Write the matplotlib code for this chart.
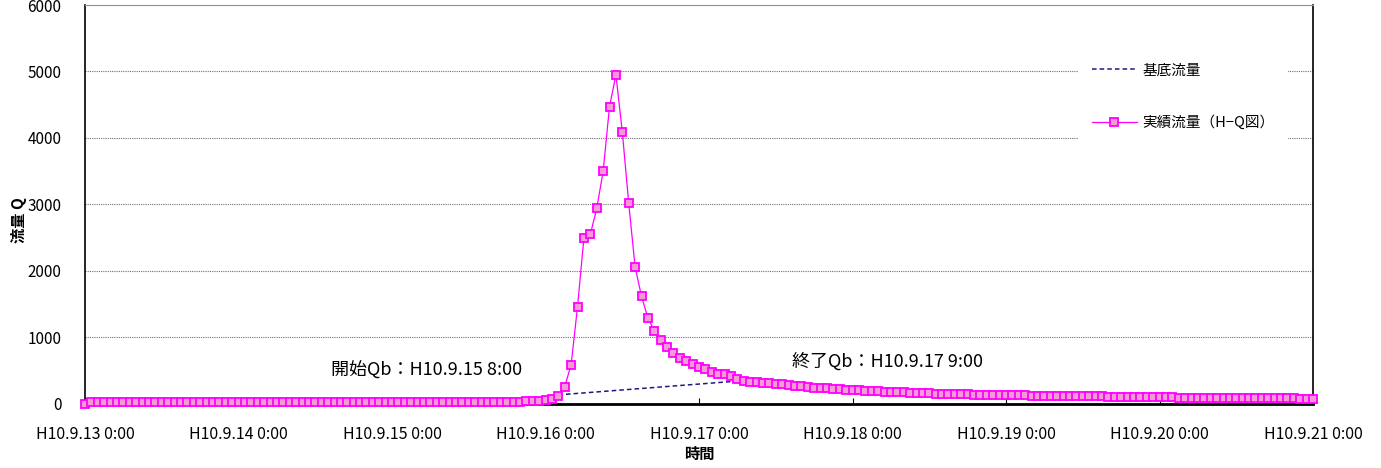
import matplotlib
matplotlib.use("Agg")
import matplotlib.pyplot as plt

plt.rcParams['font.family'] = ['Noto Sans CJK JP', 'DejaVu Sans']

# hourly discharge, H10.9.13 0:00 .. H10.9.21 0:00
flow = [0,
        25, 26, 26, 25, 25, 26, 26, 25, 25, 25, 26, 26, 25, 25, 25, 26, 25, 25, 25, 25,
        25, 25, 24, 24, 25, 25, 25, 24, 24, 24, 25, 25, 24, 24, 24, 24, 24, 24, 23, 23,
        23, 24, 24, 24, 23, 23, 23, 23, 23, 23, 23, 23, 22, 22, 22, 22, 22, 22, 22, 22,
        21, 20, 20, 20, 20, 22, 22, 23,
        35, 38, 40, 53, 65, 113, 255, 585, 1460, 2496, 2546, 2937, 3494, 4471, 4947,
        4090, 3018, 2055, 1614, 1290, 1098, 952, 850, 762, 685, 645, 598, 556, 516,
        475, 446, 444, 416, 366, 345, 330, 318, 305, 302, 290, 288, 278, 268, 262,
        252, 240, 234, 228, 222, 215, 210, 204, 198, 194, 189, 185, 180, 176, 172,
        168, 164, 160, 157, 153, 150, 147, 144, 141, 138, 136, 134, 132, 130, 128,
        126, 124, 123, 122, 121, 120, 120, 119, 118, 117, 116, 114, 112, 110, 108,
        107, 106, 105, 104, 103, 102, 101, 100, 98, 97, 95, 94, 92, 90, 89, 88, 87,
        87, 86, 86, 85, 85, 84, 84, 83, 83, 82, 81, 80, 79, 78, 76, 75, 74, 72]
hours = list(range(len(flow)))

# base flow line (start / end hour and value)
base_hours = [74, 103]
base_flow = [130, 345]

tick_hours = [0, 24, 48, 72, 96, 120, 144, 168, 192]
tick_labels = ['H10.9.13 0:00', 'H10.9.14 0:00', 'H10.9.15 0:00', 'H10.9.16 0:00',
               'H10.9.17 0:00', 'H10.9.18 0:00', 'H10.9.19 0:00', 'H10.9.20 0:00',
               'H10.9.21 0:00']

fig = plt.figure(figsize=(13.81, 4.68), dpi=100)
ax = fig.add_axes([0.0616, 0.1378, 0.8892, 0.8515])

for q in [1000, 2000, 3000, 4000, 5000]:
    ax.axhline(q, color='#707070', lw=0.8, ls=(0, (1, 1)), zorder=1)

ax.plot(base_hours, base_flow, color='#1a1a80', lw=1.1, ls=(0, (3, 2)),
        label='基底流量', zorder=2)
ax.plot(hours, flow, color='#ff00ff', lw=0.9, marker='s', markersize=5.2,
        markerfacecolor='#f59bd3', markeredgecolor='#ff00ff', markeredgewidth=1.3,
        label='実績流量（H−Q図）', zorder=3, clip_on=False)

ax.text(38.5, 490, '開始Qb：H10.9.15 8:00', fontsize=13, va='center', ha='left')
ax.text(110.5, 625, '終了Qb：H10.9.17 9:00', fontsize=13, va='center', ha='left')

ax.set_xlim(0, 192)
ax.set_ylim(0, 6000)
ax.set_xticks(tick_hours)
ax.set_xticklabels(tick_labels)
ax.set_yticks([0, 1000, 2000, 3000, 4000, 5000, 6000])
ax.tick_params(axis='x', direction='in', length=4, width=0.8, pad=16, labelsize=11.5)
ax.tick_params(axis='y', length=0, pad=17, labelsize=11)

ax.spines['bottom'].set_linewidth(2)
ax.spines['left'].set_linewidth(1.2)
ax.spines['right'].set_linewidth(1.2)
ax.spines['top'].set_color('#909090')

ax.set_xlabel('時間', fontsize=11, fontweight='bold', labelpad=2)
ax.set_ylabel('流量 Q', fontsize=11, fontweight='bold')
ax.yaxis.set_label_coords(-0.047, 0.46)

leg = ax.legend(loc='upper left', bbox_to_anchor=(0.803, 0.905), fontsize=10.5,
                handlelength=3.1, labelspacing=2.6, borderpad=0.9, handletextpad=0.4,
                frameon=True, fancybox=False)
leg.get_frame().set_facecolor('white')
leg.get_frame().set_edgecolor('none')
leg.get_frame().set_alpha(1)

fig.savefig('out.png', dpi=100)
